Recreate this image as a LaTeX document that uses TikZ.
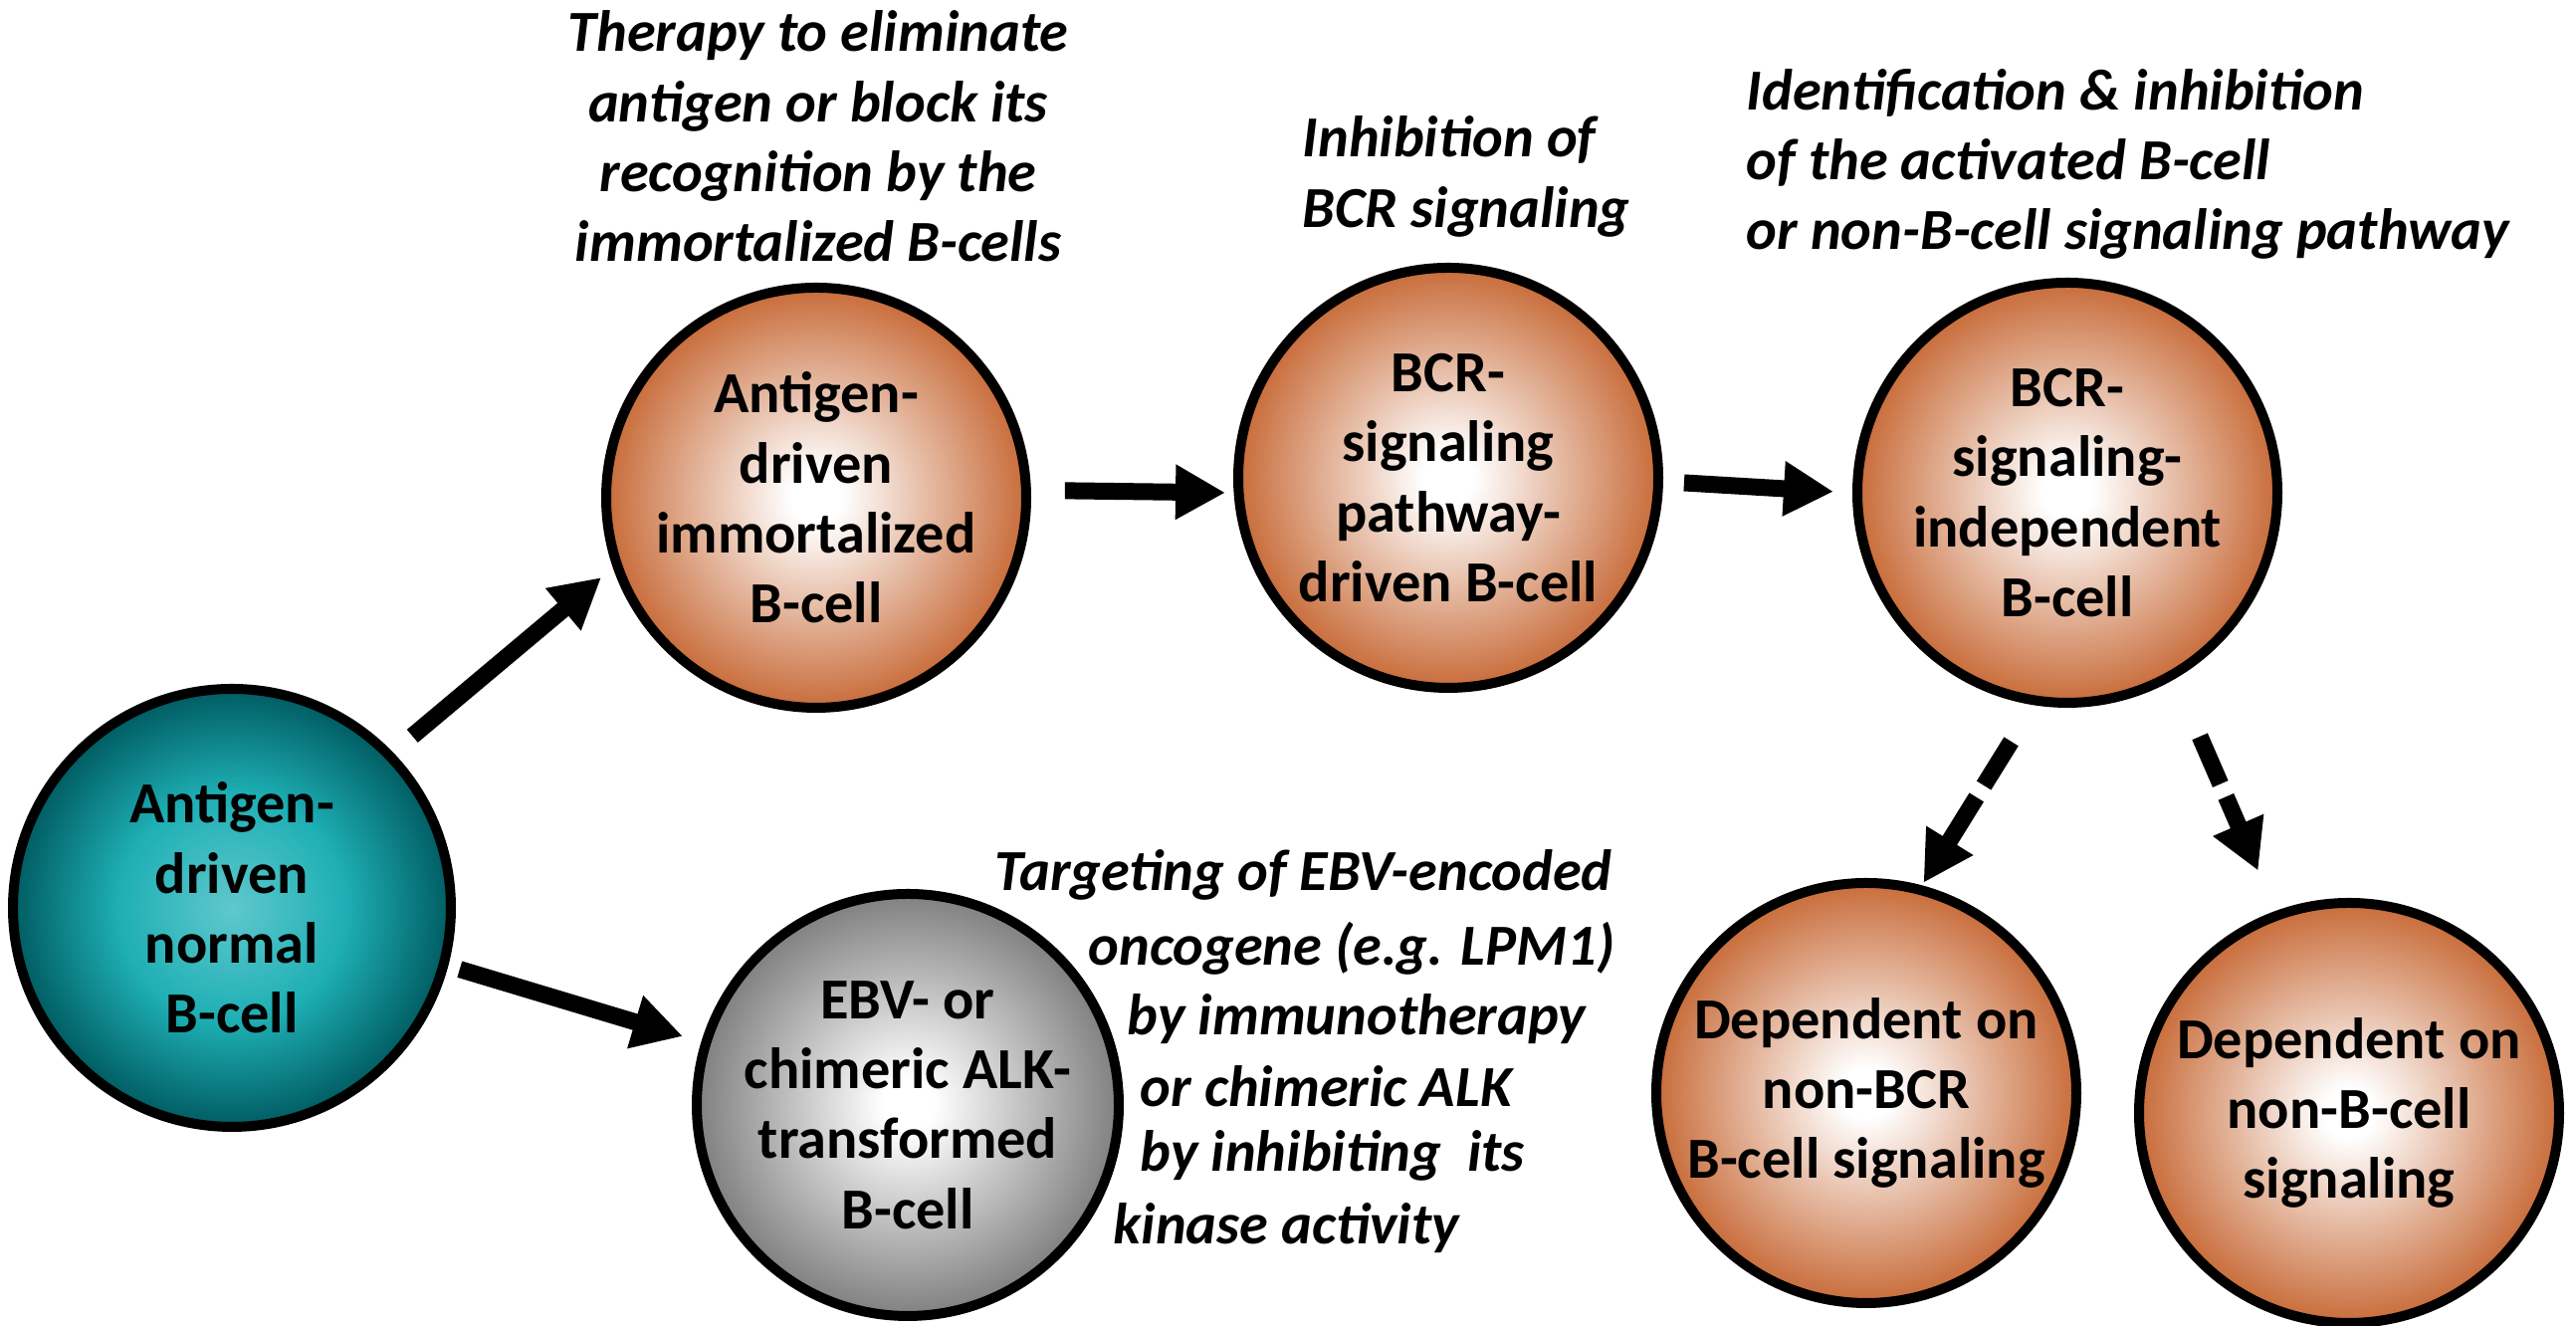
\documentclass[tikz,border=0pt]{standalone}
\usepackage{fontspec}
\setmainfont{Carlito}
\usetikzlibrary{arrows.meta}
\definecolor{orangeedge}{RGB}{200,108,58}
\definecolor{tealin}{RGB}{95,200,205}
\definecolor{tealmid}{RGB}{30,175,180}
\definecolor{tealout}{RGB}{0,92,98}
\definecolor{grayedge}{RGB}{128,128,128}
\pgfdeclareradialshading{orangeball}{\pgfpoint{0bp}{0bp}}{color(0bp)=(white); color(3bp)=(white); color(25bp)=(orangeedge); color(50bp)=(orangeedge)}
\pgfdeclareradialshading{tealball}{\pgfpoint{0bp}{0bp}}{color(0bp)=(tealin); color(13bp)=(tealmid); color(25bp)=(tealout); color(50bp)=(tealout)}
\pgfdeclareradialshading{grayball}{\pgfpoint{0bp}{0bp}}{color(0bp)=(white); color(3bp)=(white); color(25bp)=(grayedge); color(50bp)=(grayedge)}
\begin{document}
\begin{tikzpicture}[
  cell/.style={circle, draw=black, line width=0.1cm, minimum size=4.22cm, inner sep=-0.4cm,
    align=center, font=\fontsize{16.6pt}{20pt}\selectfont\bfseries, shade},
  orangecell/.style={cell, shading=orangeball},
  tealcell/.style={cell, shading=tealball, minimum size=4.4cm},
  graycell/.style={cell, shading=grayball, minimum size=4.24cm},
  ann/.style={font=\fontsize{16.6pt}{20pt}\selectfont\bfseries\itshape, inner sep=0pt},
  annline/.style={ann, anchor=base west},
  arr/.style={line width=0.17cm, -{Triangle[length=0.5cm,width=0.52cm]}},
  darr/.style={arr, dash pattern=on 0.52cm off 0.14cm}
]
\fill[white] (0,0) rectangle (25.88,13.32);
\useasboundingbox (0,0) rectangle (25.88,13.32);

\node[tealcell] (teal) at (2.33,4.20) {Antigen-\\driven\\normal\\B-cell};
\node[orangecell] (imm) at (8.20,8.32) {Antigen-\\driven\\immortalized\\B-cell};
\node[orangecell] (bcrp) at (14.55,8.52) {BCR-\\signaling\\pathway-\\driven B-cell};
\node[orangecell] (bind) at (20.77,8.37) {BCR-\\signaling-\\independent\\B-cell};
\node[orangecell] (dnbcr) at (18.75,2.34) {Dependent on\\non-BCR\\B-cell signaling};
\node[orangecell] (dnbc) at (23.60,2.14) {Dependent on\\non-B-cell\\signaling};
\node[graycell] (ebv) at (9.12,2.22) {EBV- or\\chimeric ALK-\\transformed\\B-cell};

\node[ann, align=center] (t1) at (8.22,11.95) {Therapy to eliminate\\antigen or block its\\recognition by the\\immortalized B-cells};
\node[ann, align=left, anchor=west] (t2) at (13.08,11.545) {Inhibition of\\BCR signaling};
\node[ann, align=left, anchor=west] (t3) at (17.54,11.67) {Identification \& inhibition\\of the activated B-cell\\or non-B-cell signaling pathway};
\node[annline] (t4a) at (9.99,4.37) {Targeting of EBV-encoded};
\node[annline] (t4b) at (10.93,3.62) {oncogene (e.g. LPM1)};
\node[annline] (t4c) at (11.32,2.92) {by immunotherapy};
\node[annline] (t4d) at (11.45,2.20) {or chimeric ALK};
\node[annline] (t4e) at (11.45,1.55) {by inhibiting\ \ its};
\node[annline] (t4f) at (11.18,0.82) {kinase activity};

\draw[arr, shorten <=0.254cm, shorten >=0.153cm] (teal.44) -- (imm.199);
\draw[arr, shorten <=0.12cm, shorten >=0.193cm] (teal.-15) -- (ebv.163);
\draw[arr, shorten <=0.34cm, shorten >=0.085cm] (imm.2) -- (bcrp.184);
\draw[arr, shorten <=0.21cm, shorten >=0.19cm] (bcrp.-1) -- (bind.180);
\draw[darr, shorten <=0.43cm, shorten >=0.03cm] (bind.261) -- (dnbcr.75);
\draw[darr, shorten <=0.63cm, shorten >=0.44cm] (bind.-60) -- (dnbc.110);
\end{tikzpicture}
\end{document}
